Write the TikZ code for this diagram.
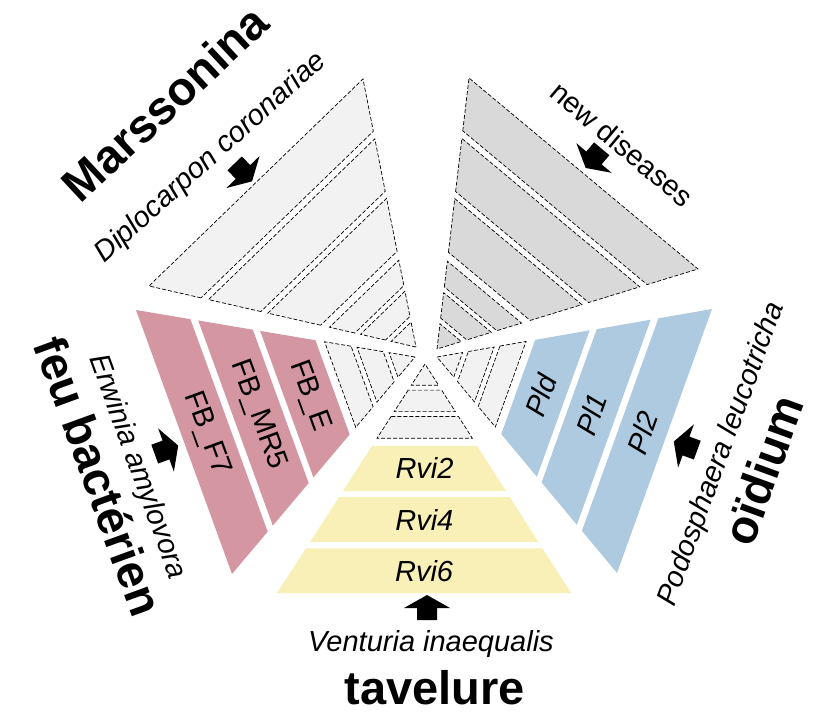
\documentclass[tikz,border=0pt]{standalone}
\usepackage{fontspec}
\setmainfont{Liberation Sans}
\usetikzlibrary{calc}

\definecolor{feupink}{RGB}{212,151,161}
\definecolor{oidblue}{RGB}{174,202,224}
\definecolor{tavyellow}{RGB}{249,240,184}
\definecolor{emptygray}{RGB}{242,242,242}
\definecolor{newgray}{RGB}{217,217,217}

\tikzset{
  emptyband/.style={draw, dash pattern=on 4pt off 2pt, line width=0.7pt, fill=emptygray},
  newband/.style={emptyband, fill=newgray},
  bandlabel/.style={inner sep=0pt, font=\fontsize{29}{31}\selectfont},
  italiclabel/.style={inner sep=0pt, font=\fontsize{29}{31}\selectfont\itshape},
  bigtitle/.style={inner sep=0pt, font=\fontsize{47}{50}\selectfont\bfseries},
}

% one band of a sector: style, sector, from, to (fractions apex -> outer edge)
\newcommand{\band}[4]{%
  \path[#1] ($(#2A)!#3!(#2L)$) -- ($(#2A)!#4!(#2L)$) -- ($(#2A)!#4!(#2R)$) -- ($(#2A)!#3!(#2R)$) -- cycle;}

\begin{document}
\begin{tikzpicture}[x=1pt,y=-1pt]
\useasboundingbox (0,0) rectangle (815,712);

% sectors: apex and the two outer corners
\coordinate (tavA) at (425,364); \coordinate (tavL) at (277,593); \coordinate (tavR) at (571,593);
\coordinate (oidA) at (437,357); \coordinate (oidL) at (712,309); \coordinate (oidR) at (617,573);
\coordinate (newA) at (437,349); \coordinate (newL) at (469,78);  \coordinate (newR) at (698,269);
\coordinate (marA) at (416,347); \coordinate (marL) at (149,286); \coordinate (marR) at (363,79);
\coordinate (feuA) at (415,357); \coordinate (feuL) at (136,310); \coordinate (feuR) at (232,574);
\foreach \s in {tav,oid,feu}
  \coordinate (\s M) at ($(\s L)!0.5!(\s R)$);

% empty bands
\foreach \s in {tav,oid,feu,mar}
  \foreach \f/\t in {0/0.093,0.114/0.208,0.229/0.324}
    {\band{emptyband}{\s}{\f}{\t}}
\foreach \f/\t in {0.357/0.555,0.581/0.777,0.805/1}
  {\band{emptyband}{mar}{\f}{\t}}
\foreach \f/\t in {0/0.093,0.114/0.208,0.229/0.324,0.357/0.555,0.581/0.777,0.805/1}
  {\band{newband}{new}{\f}{\t}}

% resistance genes
\foreach \f/\t in {0.357/0.555,0.581/0.777,0.805/1}
  {\band{fill=tavyellow}{tav}{\f}{\t}
   \band{fill=oidblue}{oid}{\f}{\t}
   \band{fill=feupink}{feu}{\f}{\t}}

\node[italiclabel] (rvi2) at ($(tavA)!0.456!(tavM)$) {Rvi2};
\node[italiclabel] (rvi4) at ($(tavA)!0.679!(tavM)$) {Rvi4};
\node[italiclabel] (rvi6) at ($(tavA)!0.9025!(tavM)$) {Rvi6};
\node[italiclabel, rotate=70] (pld) at ($(oidA)!0.456!(oidM)$) {Pld};
\node[italiclabel, rotate=70] (pl1) at ($(oidA)!0.679!(oidM)$) {Pl1};
\node[italiclabel, rotate=70] (pl2) at ($(oidA)!0.9025!(oidM)$) {Pl2};
\node[bandlabel, rotate=-70] (fbe) at ($(feuA)!0.456!(feuM)$) {FB\_E};
\node[bandlabel, rotate=-70] (fbmr5) at ($(feuA)!0.679!(feuM)$) {FB\_MR5};
\node[bandlabel, rotate=-70] (fbf7) at ($(feuA)!0.9025!(feuM)$) {FB\_F7};

% pathogens
\node[bigtitle, rotate=43] (marstitle) at (165,103) {Marssonina};
\node[italiclabel, rotate=42] (diplo) at (211,158) {Diplocarpon coronariae};
\node[bandlabel, rotate=-40] (newdis) at (622,144) {new diseases};
\node[bigtitle, rotate=-70] (feutitle) at (99,476) {feu bactérien};
\node[italiclabel, rotate=-70] (erwinia) at (137,467) {Erwinia amylovora};
\node[bigtitle, rotate=70] (oidtitle) at (763,470) {oïdium};
\node[italiclabel, rotate=70] (podo) at (722,454) {Podosphaera leucotricha};
\node[italiclabel] (venturia) at (431,644) {Venturia inaequalis};
\node[bigtitle] (tavtitle) at (435,688) {tavelure};

% block arrows
\foreach \p/\a in {{(427,608)}/90,{(166,450)}/20,{(686,446)}/160,{(243,172)}/-46,{(594,158)}/230}
  \fill[shift={\p}, rotate=\a] (13,0) -- (0,23) -- (0,10) -- (-12,10) -- (-12,-10) -- (0,-10) -- (0,-23) -- cycle;
\end{tikzpicture}
\end{document}
